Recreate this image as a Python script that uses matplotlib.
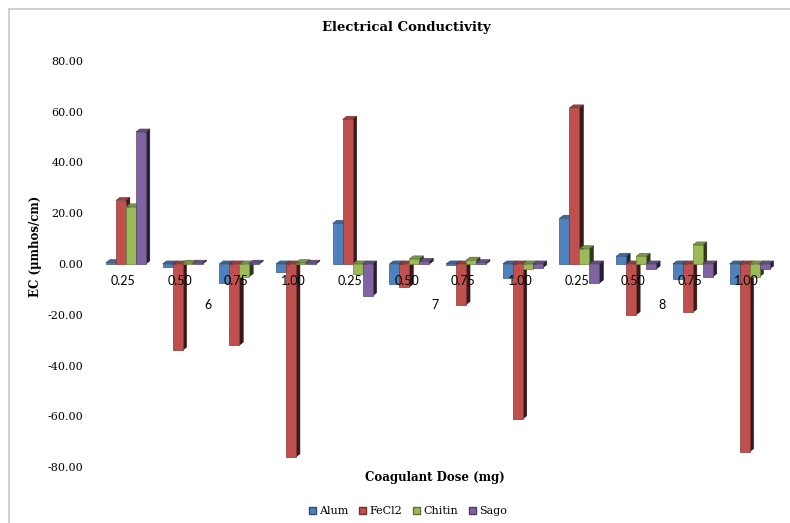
import numpy as np
import matplotlib
matplotlib.use('Agg')
import matplotlib.pyplot as plt
from matplotlib.patches import Polygon, Patch
from matplotlib.lines import Line2D
from matplotlib.colors import to_rgb

# EC change per coagulant, by pH group and dose
doses = ['0.25', '0.50', '0.75', '1.00'] * 3
ph_groups = ['6', '7', '8']
alum = [0.5, -1.0, -7.5, -3.0, 16.0, -8.0, -0.5, -5.5, 18.0, 3.0, -6.0, -8.0]
fecl2 = [25.0, -34.0, -32.0, -76.0, 57.0, -9.0, -16.0, -61.0, 61.5, -20.0, -19.0, -74.0]
chitin = [22.5, 0.3, -5.0, 0.5, -4.0, 2.0, 1.5, -2.0, 6.0, 3.0, 7.5, -5.0]
sago = [52.0, 0.3, 0.3, 0.3, -12.5, 1.0, 0.5, -1.5, -7.5, -2.0, -5.0, -2.0]
series_names = ['Alum', 'FeCl2', 'Chitin', 'Sago']
series_colors = ['#4F81BD', '#C0504D', '#9BBB59', '#8064A2']
yticks = [-80, -60, -40, -20, 0, 20, 40, 60, 80]
ytick_labels = ['-80.00', '-60.00', '-40.00', '-20.00', '0.00', '20.00', '40.00', '60.00', '80.00']

serif = 'DejaVu Serif'

fig = plt.figure(figsize=(7.9, 5.23), dpi=100)
ax = fig.add_axes([100 / 790, 56 / 523, 680 / 790, 406 / 523])
ax.set_xlim(-0.406, 11.587)
ax.set_ylim(-80, 80)


def shade(c, f):
    r, g, b = to_rgb(c)
    return (r * f, g * f, b * f)


def draw_3d_bars(ax, x, vals, color, zbase):
    # front face via ax.bar, then side and top faces to fake depth
    w = 0.176
    dx = 0.07
    dy = 1.2
    bars = ax.bar(x, vals, width=w, align='edge', color=color,
                  edgecolor=shade(color, 0.7), linewidth=0.5, zorder=zbase)
    for rect in bars:
        x0 = rect.get_x()
        y0 = rect.get_y()
        h = rect.get_height()
        lo, hi = min(y0, y0 + h), max(y0, y0 + h)
        x1 = x0 + w
        side = Polygon([(x1, lo), (x1 + dx, lo + dy), (x1 + dx, hi + dy), (x1, hi)],
                       closed=True, facecolor=shade(color, 0.3),
                       edgecolor=shade(color, 0.2), linewidth=0.4, zorder=zbase - 0.1)
        top = Polygon([(x0, hi), (x0 + dx, hi + dy), (x1 + dx, hi + dy), (x1, hi)],
                      closed=True, facecolor=shade(color, 0.8),
                      edgecolor=shade(color, 0.5), linewidth=0.4, zorder=zbase - 0.05)
        ax.add_patch(side)
        ax.add_patch(top)
    return bars


cats = np.arange(len(doses))
w = 0.176
start = -2 * w + 0.05
all_series = [alum, fecl2, chitin, sago]
for j, (vals, col) in enumerate(zip(all_series, series_colors)):
    for i in cats:
        # z order grows left to right so the next bar hides the previous side
        draw_3d_bars(ax, [i + start + j * w], [vals[i]], col, zbase=2 + i * 4 + j)

# category labels sit just under the zero line
for i, d in enumerate(doses):
    ax.annotate(d, xy=(i, 0), xytext=(0, -12.5), textcoords='offset points',
                ha='center', va='center', fontsize=9, family='Lato', zorder=100)
for g, name in enumerate(ph_groups):
    ax.annotate(name, xy=(g * 4 + 1.5, 0), xytext=(0, -29.5), textcoords='offset points',
                ha='center', va='center', fontsize=9, family='Lato', zorder=100)

ax.set_yticks(yticks)
ax.set_yticklabels(ytick_labels, fontsize=8, family=serif)
ax.tick_params(axis='y', length=0, pad=12)
ax.set_xticks([])
for s in ax.spines.values():
    s.set_visible(False)

fig.text(406 / 790, 1 - 28 / 523, 'Electrical Conductivity', ha='center', va='center',
         fontsize=9.5, fontweight='bold', family=serif)
fig.text(36 / 790, 1 - 246 / 523, 'EC (\u03bcmhos/cm)', ha='center', va='center',
         rotation=90, fontsize=8.5, fontweight='bold', family=serif)
fig.text(435 / 790, 1 - 477 / 523, 'Coagulant Dose (mg)', ha='center', va='center',
         fontsize=8.5, fontweight='bold', family=serif)

handles = [Patch(facecolor=c, edgecolor=shade(c, 0.6)) for c in series_colors]
fig.legend(handles, series_names, loc='center', bbox_to_anchor=(408 / 790, 1 - 511 / 523),
           ncol=4, frameon=False, prop={'family': serif, 'size': 8},
           handlelength=0.6, handleheight=0.6, handletextpad=0.3, columnspacing=1.0)

# light chart-area frame on the top and left
fig.add_artist(Line2D([9 / 790, 9 / 790], [0, 1 - 9 / 523], color='#c8c8c8', lw=1.2))
fig.add_artist(Line2D([9 / 790, 1], [1 - 9 / 523, 1 - 9 / 523], color='#c8c8c8', lw=1.2))

fig.savefig('out.png', dpi=100)
